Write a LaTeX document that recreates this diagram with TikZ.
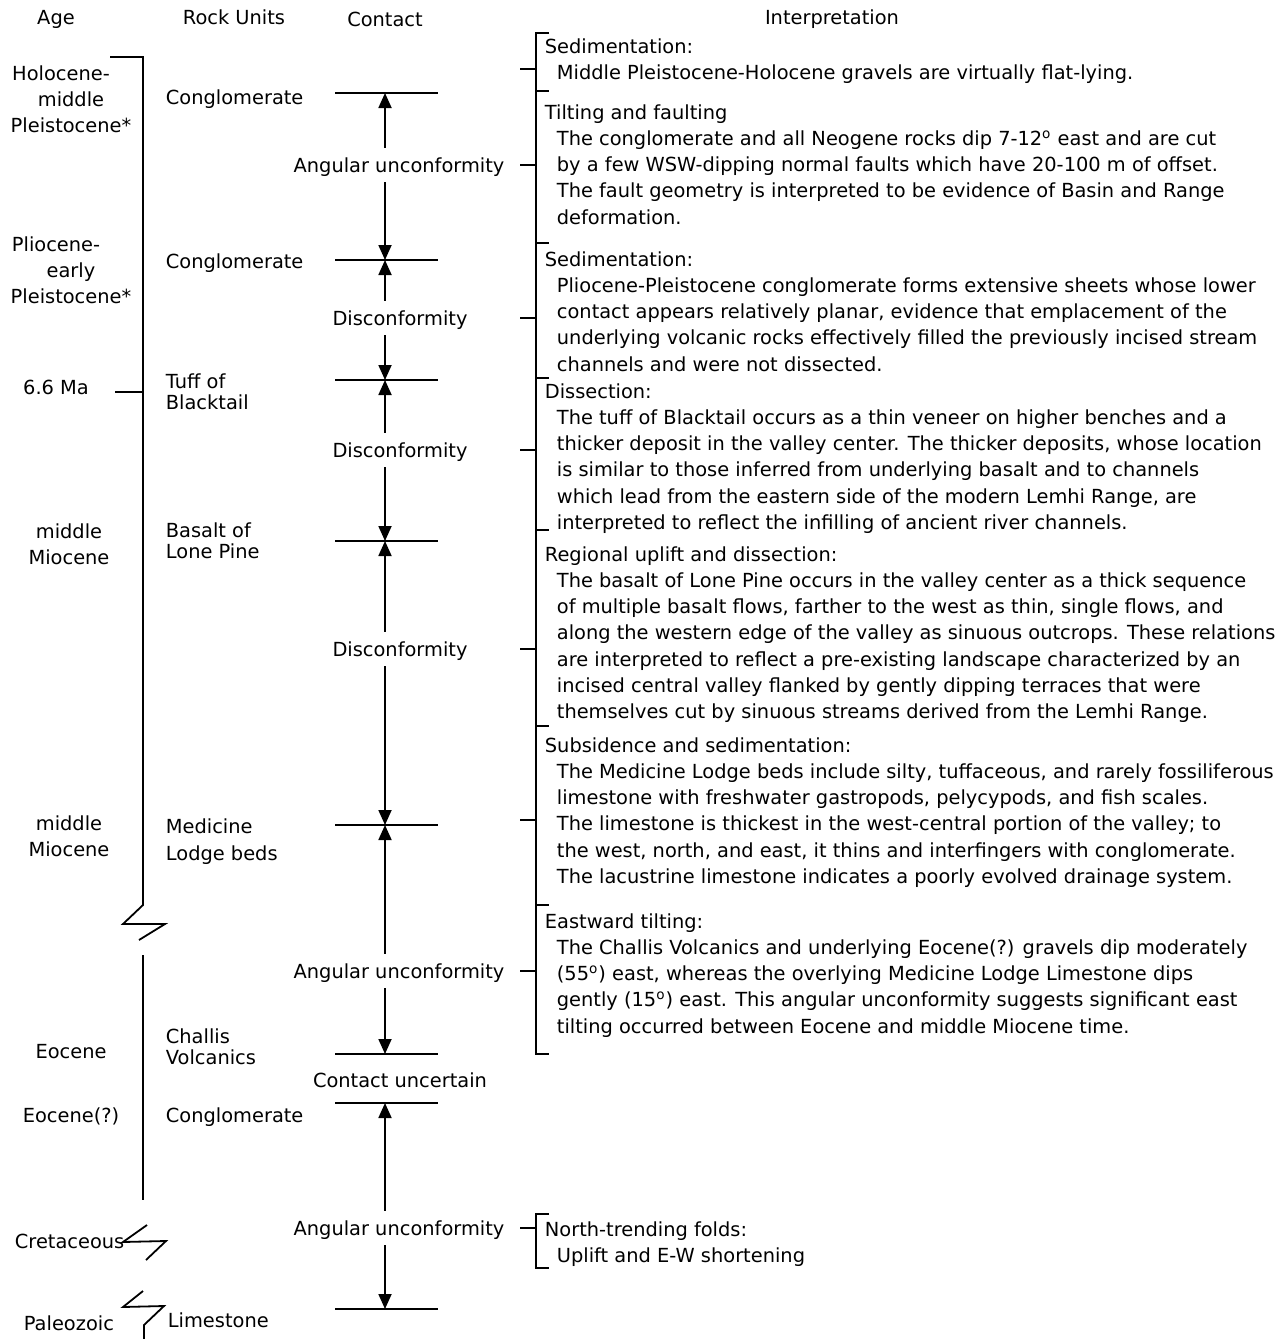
\documentclass[tikz,border=0pt]{standalone}
\usepackage{fontspec}
\setmainfont{DejaVu Sans}
\usetikzlibrary{arrows.meta}
\newcommand\bodyind{\hspace*{6pt}}
\newcommand\dg{\textsuperscript{o}}
\tikzset{
  txt/.style={font=\fontsize{9.7}{13.1}\selectfont, inner sep=0pt},
  one/.style={txt, text height=7.1pt, text depth=0pt},
  multil/.style={txt, align=left, anchor=north west},
  multic/.style={txt, align=center, anchor=north},
  cont/.style={one, outer sep=5pt},
  arr/.style={-{Triangle[length=7.5pt,width=6.5pt]}},
}
\begin{document}
\begin{tikzpicture}[x=0.5pt,y=-0.5pt,line width=0.9pt]
\useasboundingbox (0,0) rectangle (1288,1339);

% headers
\node[one] (hAge) at (56,17) {Age};
\node[one] (hRock) at (234,17) {Rock Units};
\node[one] (hCont) at (385,19) {Contact};
\node[one] (hInt) at (832,17) {Interpretation};

% ages
\node[multic] (a1) at (71,61) {\strut Holocene-\hspace*{10pt}\\middle\hspace*{4pt}\\Pleistocene*};
\node[multic] (a2) at (71,232) {\strut Pliocene-\hspace*{15pt}\\early\hspace*{9pt}\\Pleistocene*};
\node[one] (a3) at (56,387) {6.6 Ma};
\node[multic] (a4) at (69,519) {\strut middle\\Miocene};
\node[multic] (a5) at (69,811) {\strut middle\\Miocene};
\node[one] (a6) at (71,1051) {Eocene};
\node[one] (a7) at (71,1115) {Eocene(?)};
\node[one,anchor=west] (a8) at (14,1241) {Cretaceous};
\node[one,anchor=west] (a9) at (23,1323) {Paleozoic};

% age bracket
\draw (110,57) -- (143,57) -- (143,905) -- (123,924) -- (165,924) -- (139,940);
\draw (115,392) -- (143,392);
\draw (143,955) -- (143,1200);
\draw (147,1225) -- (123,1242) -- (166,1241) -- (146,1260);
\draw (143,1291) -- (123,1307) -- (164,1306) -- (144,1325) -- (144,1339);

% rock units
\node[one,anchor=west] (r1) at (165,97) {Conglomerate};
\node[one,anchor=west] (r2) at (165,261) {Conglomerate};
\node[multil] (r3) at (165,369) {\strut Tuff of\\[-2.6pt]Blacktail};
\node[multil] (r4) at (165,518) {\strut Basalt of\\[-2.6pt]Lone Pine};
\node[multil] (r5) at (165,814) {\strut Medicine\\[0.4pt]Lodge beds};
\node[multil] (r6) at (165,1024) {\strut Challis\\[-2.6pt]Volcanics};
\node[one,anchor=west] (r7) at (165,1115) {Conglomerate};
\node[one,anchor=west] (r8) at (167,1320) {Limestone};

% contacts
\foreach \i/\y in {1/93,2/260,3/380,4/541,5/825,6/1054,7/1103,8/1309}{
  \coordinate (c\i) at (385,\y);
  \draw (335,\y) -- (438,\y);
}
\node[cont] (k1) at (399,165) {Angular unconformity};
\node[cont] (k2) at (400,318) {Disconformity};
\node[cont] (k3) at (400,450) {Disconformity};
\node[cont] (k4) at (400,649) {Disconformity};
\node[cont] (k5) at (399,971) {Angular unconformity};
\node[cont] (k6) at (400,1080) {Contact uncertain};
\node[cont] (k7) at (399,1228) {Angular unconformity};
\draw[arr] (k1.north -| c1) -- (c1);
\draw[arr] (k1.south -| c2) -- (c2);
\draw[arr] (k2.north -| c2) -- (c2);
\draw[arr] (k2.south -| c3) -- (c3);
\draw[arr] (k3.north -| c3) -- (c3);
\draw[arr] (k3.south -| c4) -- (c4);
\draw[arr] (k4.north -| c4) -- (c4);
\draw[arr] (k4.south -| c5) -- (c5);
\draw[arr] (k5.north -| c5) -- (c5);
\draw[arr] (k5.south -| c6) -- (c6);
\draw[arr] (k7.north -| c7) -- (c7);
\draw[arr] (k7.south -| c8) -- (c8);

% interpretation brackets
\draw (549,33) -- (536,33) -- (536,1054) -- (549,1054);
\foreach \y in {91,243,378,530,726,905} \draw (536,\y) -- (549,\y);
\foreach \y in {69,165,318,450,649,820,971} \draw (520,\y) -- (536,\y);
\draw (549,1214) -- (536,1214) -- (536,1268) -- (549,1268);
\draw (520,1228) -- (536,1228);

% interpretation texts
\node[multil] (s1) at (544,34) {\strut Sedimentation:\\
\bodyind Middle Pleistocene-Holocene gravels are virtually flat-lying.};
\node[multil] (s2) at (544,100) {\strut Tilting and faulting\\
\bodyind The conglomerate and all Neogene rocks dip 7-12\dg{} east and are cut\\
\bodyind by a few WSW-dipping normal faults which have 20-100 m of offset.\\
\bodyind The fault geometry is interpreted to be evidence of Basin and Range\\
\bodyind deformation.};
\node[multil] (s3) at (544,247) {\strut Sedimentation:\\
\bodyind Pliocene-Pleistocene conglomerate forms extensive sheets whose lower\\
\bodyind contact appears relatively planar, evidence that emplacement of the\\
\bodyind underlying volcanic rocks effectively filled the previously incised stream\\
\bodyind channels and were not dissected.};
\node[multil] (s4) at (544,379) {\strut Dissection:\\
\bodyind The tuff of Blacktail occurs as a thin veneer on higher benches and a\\
\bodyind thicker deposit in the valley center. The thicker deposits, whose location\\
\bodyind is similar to those inferred from underlying basalt and to channels\\
\bodyind which lead from the eastern side of the modern Lemhi Range, are\\
\bodyind interpreted to reflect the infilling of ancient river channels.};
\node[multil] (s5) at (544,542) {\strut Regional uplift and dissection:\\
\bodyind The basalt of Lone Pine occurs in the valley center as a thick sequence\\
\bodyind of multiple basalt flows, farther to the west as thin, single flows, and\\
\bodyind along the western edge of the valley as sinuous outcrops. These relations\\
\bodyind are interpreted to reflect a pre-existing landscape characterized by an\\
\bodyind incised central valley flanked by gently dipping terraces that were\\
\bodyind themselves cut by sinuous streams derived from the Lemhi Range.};
\node[multil] (s6) at (544,733) {\strut Subsidence and sedimentation:\\
\bodyind The Medicine Lodge beds include silty, tuffaceous, and rarely fossiliferous\\
\bodyind limestone with freshwater gastropods, pelycypods, and fish scales.\\
\bodyind The limestone is thickest in the west-central portion of the valley; to\\
\bodyind the west, north, and east, it thins and interfingers with conglomerate.\\
\bodyind The lacustrine limestone indicates a poorly evolved drainage system.};
\node[multil] (s7) at (544,909) {\strut Eastward tilting:\\
\bodyind The Challis Volcanics and underlying Eocene(?) gravels dip moderately\\
\bodyind (55\dg) east, whereas the overlying Medicine Lodge Limestone dips\\
\bodyind gently (15\dg) east. This angular unconformity suggests significant east\\
\bodyind tilting occurred between Eocene and middle Miocene time.};
\node[multil] (s8) at (544,1217) {\strut North-trending folds:\\
\bodyind Uplift and E-W shortening};
\end{tikzpicture}
\end{document}
